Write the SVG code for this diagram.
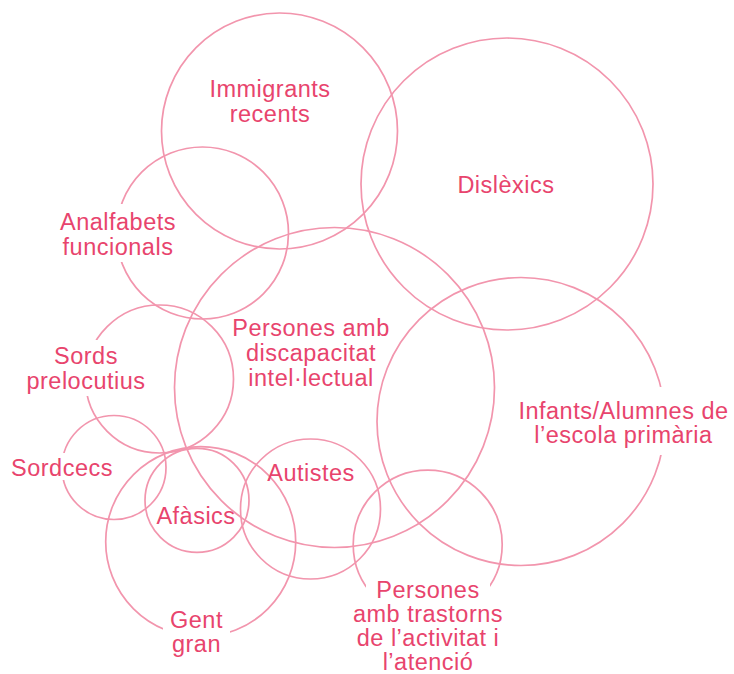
<svg xmlns="http://www.w3.org/2000/svg" width="734" height="674" viewBox="0 0 734 674">
<style>
.c{fill:none;stroke:#F295AD;stroke-width:1.7}
.t{font-family:"Liberation Sans",Arial,sans-serif;font-size:23.5px;letter-spacing:0.5px;fill:#E8446D;text-anchor:middle}
.m{fill:#fff;stroke:none}
</style>
<rect width="734" height="674" fill="#fff"/>
<g id="circles">
<circle id="c-immigrants" class="c" cx="279.5" cy="131" r="118"/>
<circle id="c-dislexics" class="c" cx="507" cy="184" r="146"/>
<circle id="c-analfabets" class="c" cx="202.5" cy="233" r="86"/>
<circle id="c-discapacitat" class="c" cx="334.5" cy="387.5" r="160"/>
<circle id="c-infants" class="c" cx="521" cy="421.5" r="144"/>
<circle id="c-sords" class="c" cx="159.5" cy="379" r="74"/>
<circle id="c-sordcecs" class="c" cx="114" cy="467.5" r="52"/>
<circle id="c-afasics" class="c" cx="197" cy="500.3" r="52"/>
<circle id="c-gentgran" class="c" cx="200.7" cy="541.7" r="95"/>
<circle id="c-autistes" class="c" cx="310.5" cy="509" r="70"/>
<circle id="c-trastorns" class="c" cx="427.7" cy="544.6" r="74.5"/>
</g>
<g id="label-masks">
<rect class="m" x="52" y="204" width="132" height="58"/>
<rect class="m" x="20" y="340" width="133" height="56"/>
<rect class="m" x="4" y="453" width="116" height="27"/>
<rect class="m" x="510" y="387" width="224" height="68"/>
<rect class="m" x="163" y="606" width="67" height="54"/>
<rect class="m" x="366" y="575" width="124" height="99"/>
</g>
<g id="immigrants"><text class="t" x="270" y="97">Immigrants</text><text class="t" x="270" y="122">recents</text></g>
<g id="dislexics"><text class="t" x="506" y="193">Dislèxics</text></g>
<g id="analfabets"><text class="t" x="118" y="230">Analfabets</text><text class="t" x="118" y="255">funcionals</text></g>
<g id="discapacitat"><text class="t" x="311" y="336">Persones amb</text><text class="t" x="311" y="361">discapacitat</text><text class="t" x="311" y="386">intel·lectual</text></g>
<g id="infants"><text class="t" x="623.5" y="419">Infants/Alumnes de</text><text class="t" x="623.5" y="443">l’escola primària</text></g>
<g id="sords"><text class="t" x="86" y="364">Sords</text><text class="t" x="86" y="389">prelocutius</text></g>
<g id="sordcecs"><text class="t" x="62" y="475.5">Sordcecs</text></g>
<g id="afasics"><text class="t" x="196" y="524">Afàsics</text></g>
<g id="autistes"><text class="t" x="311" y="480.5">Autistes</text></g>
<g id="gentgran"><text class="t" x="196.5" y="628">Gent</text><text class="t" x="196.5" y="652">gran</text></g>
<g id="trastorns"><text class="t" x="428" y="598">Persones</text><text class="t" x="428" y="622">amb trastorns</text><text class="t" x="428" y="646">de l’activitat i</text><text class="t" x="428" y="670">l’atenció</text></g>
</svg>
